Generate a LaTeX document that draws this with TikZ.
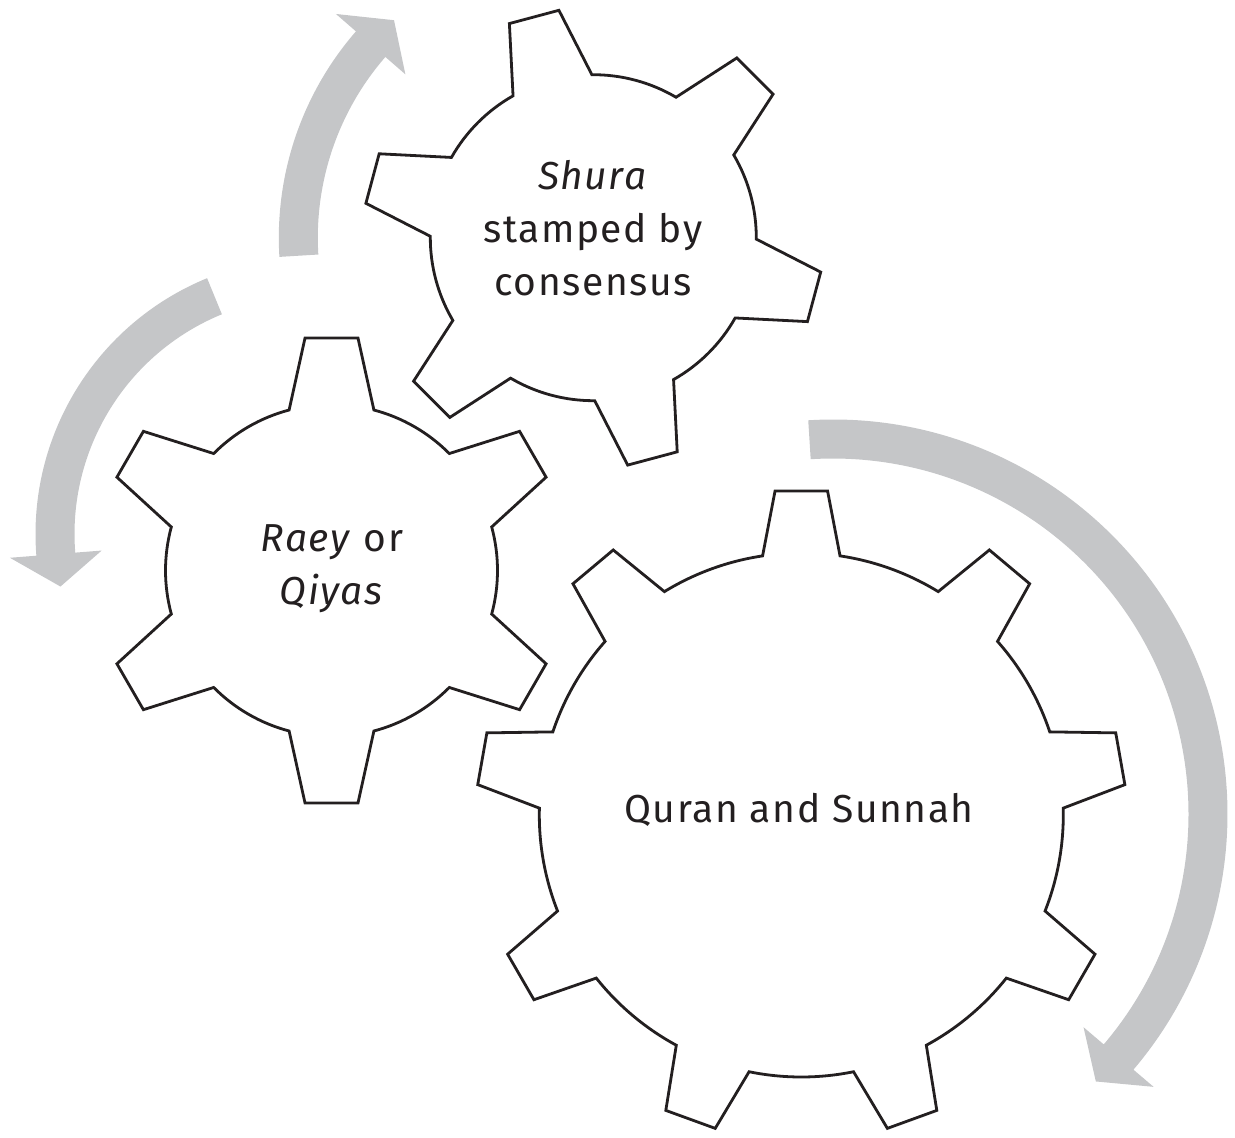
\documentclass[tikz,border=0pt]{standalone}
\usepackage{fontspec}
\setmainfont{Fira Sans}[LetterSpace=4]
\definecolor{gearcol}{HTML}{231F20}
\definecolor{textcol}{HTML}{231F20}
\definecolor{arrowgray}{HTML}{C5C6C8}
% #1 name, #2 cx, #3 cy, #4 teeth, #5 first tooth angle, #6 tip radius, #7 root radius, #8 tip half-angle, #9 base half-angle
\newcommand{\drawgear}[9]{%
  \begin{scope}[shift={(#2,#3)}]
    \coordinate (#1) at (0,0);
    \pgfmathsetmacro{\gstep}{360/#4}
    \draw[gearline] ({#5-#9}:#7)
      \foreach \k in {1,...,#4} {
        -- ({#5+(\k-1)*\gstep-#8}:#6)
        -- ({#5+(\k-1)*\gstep+#8}:#6)
        -- ({#5+(\k-1)*\gstep+#9}:#7)
        arc[start angle={#5+(\k-1)*\gstep+#9}, end angle={#5+\k*\gstep-#9}, radius=#7]
      } -- cycle;
  \end{scope}}
% #1 name, #2 cx, #3 cy, #4 radius, #5 start angle, #6 head base angle, #7 tip angle
\newcommand{\grayarrow}[7]{%
  \begin{scope}[shift={(#2,#3)}]
    \coordinate (#1) at ({#7}:#4);
    \fill[arrowgray] ({#5}:{#4+19.5})
      arc[start angle=#5, end angle=#6, radius={#4+19.5}]
      -- ({#6}:{#4+46}) -- (#1) -- ({#6}:{#4-46}) -- ({#6}:{#4-19.5})
      arc[start angle=#6, end angle=#5, radius={#4-19.5}] -- cycle;
  \end{scope}}
\begin{document}
\begin{tikzpicture}[x=0.5pt,y=0.5pt,
  gearline/.style={draw=gearcol, line width=1.4pt, fill=white, line join=miter},
  lbl/.style={text=textcol, align=center, inner sep=0pt,
    font=\fontsize{19.5}{26.5}\selectfont}]
\useasboundingbox (0,0) rectangle (1235,1137);
% curved arrows
\grayarrow{tipA}{593.3}{899.3}{295}{183.5}{139}{132.5}
\grayarrow{tipB}{312}{603}{257}{112.3}{184.5}{191.8}
\grayarrow{tipC}{833}{323}{375}{93.6}{-40.4}{-45.5}
% gears
\drawgear{G1}{593.3}{899.3}{6}{105}{230}{163}{6.4}{14.5}
\drawgear{G2}{331.5}{566.5}{6}{90}{234}{166}{6.5}{14.8}
\drawgear{G3}{801.3}{322}{9}{90}{325}{262}{4.64}{8.5}
% labels
\node[lbl] (t1) at (593,909) {\textit{Shura}\\stamped by\\consensus};
\node[lbl] (t2) at (332,568) {\textit{Raey} or\\\textit{Qiyas}};
\node[lbl] (t3) at (799,327) {Quran and Sunnah};
\end{tikzpicture}
\end{document}
